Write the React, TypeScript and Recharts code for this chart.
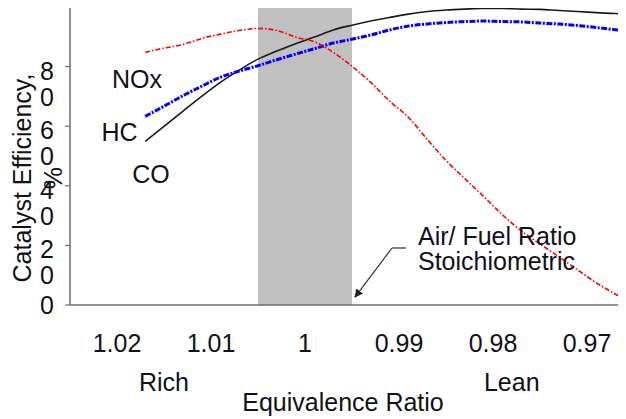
import React from "react";
import {
  LineChart,
  Line,
  XAxis,
  YAxis,
  ReferenceArea,
  ReferenceLine,
  ReferenceDot,
} from "recharts";

// ---- data ----
const ratio = [
  1.017, 1.015, 1.013, 1.011, 1.009, 1.007, 1.005, 1.003, 1.001, 0.999, 0.997,
  0.995, 0.993, 0.991, 0.989, 0.987, 0.985, 0.983, 0.981, 0.979, 0.977, 0.975,
  0.973, 0.971, 0.969, 0.967, 0.966,
];
const noxValues = [
  84.8, 86.2, 87.4, 89.4, 90.9, 92.1, 92.8, 92.1, 89.9, 88.3, 84.8, 80.1, 74.7,
  68.4, 63.0, 55.6, 48.5, 42.4, 36.4, 30.3, 24.9, 20.5, 16.2, 11.8, 7.4, 3.7, 1.7,
];
const hcValues = [
  63.3, 66.7, 70.2, 73.4, 76.4, 78.5, 80.3, 82.3, 84.2, 86.0, 87.9, 89.2, 90.6,
  92.3, 93.6, 94.3, 94.8, 95.1, 95.3, 95.1, 95.0, 94.6, 94.3, 93.8, 93.1, 92.4,
  92.1,
];
const coValues = [
  54.9, 59.9, 65.0, 70.0, 74.7, 78.8, 82.5, 85.2, 87.7, 89.9, 92.3, 93.9, 95.3,
  96.5, 97.6, 98.5, 99.0, 99.3, 99.5, 99.5, 99.3, 99.2, 98.8, 98.5, 98.1, 97.8,
  97.6,
];

// category boundaries (tick marks) and category centres (labels)
const xBoundaryTicks = [1.025, 1.015, 1.005, 0.995, 0.985, 0.975];
const xLabelTicks = [1.02, 1.01, 1.0, 0.99, 0.98, 0.97];
const xTickLabels = ["1.02", "1.01", "1", "0.99", "0.98", "0.97"];
const xDomain = [0.96585, 1.025];

const regionTicks = [1.015, 0.978];
const regionLabels = ["Rich", "Lean"];

const yTicks = [0, 20, 40, 60, 80];
const yTickLabels = ["0", "20", "40", "60", "80"];

// stoichiometric band
const bandFrom = 1.005;
const bandTo = 0.995;

// series name annotations
const seriesNames = ["NOx", "HC", "CO"];
const seriesNameX = [1.01787, 1.01973, 1.01638];
const seriesNameY = [75.7, 58.2, 43.8];

// arrow annotation (data units)
const arrowTail = { x: 0.989255, y: 19.13 };
const arrowElbow = { x: 0.990745, y: 19.13 };
const arrowTip = { x: 0.99468, y: 2.68 };
const noteAnchor = { x: 0.98798, y: 20.13 };
const noteLines = ["Air/ Fuel Ratio", "Stoichiometric"];

const data = ratio.map((r, i) => ({
  ratio: r,
  nox: noxValues[i],
  hc: hcValues[i],
  co: coValues[i],
}));

const FONT = "'Liberation Sans', Arial, Helvetica, sans-serif";
const FS = 25;
const TXT = "#111118";
const AXIS = "#6e6e6e";

const YTick = (props: any) => {
  const { x, y, payload } = props;
  const idx = yTicks.indexOf(payload.value);
  const s = idx >= 0 ? yTickLabels[idx] : String(payload.value);
  if (s.length === 1) {
    return (
      <text x={x} y={y} dy={9} textAnchor="end" fontSize={FS} fontFamily={FONT} fill={TXT}>
        {s}
      </text>
    );
  }
  return (
    <text x={x} y={y} textAnchor="end" fontSize={FS} fontFamily={FONT} fill={TXT}>
      <tspan x={x} dy={13}>{s.slice(0, 1)}</tspan>
      <tspan x={x} dy={26}>{s.slice(1)}</tspan>
    </text>
  );
};

const XValueTick = (props: any) => {
  const { x, y, payload } = props;
  const idx = xLabelTicks.indexOf(payload.value);
  return (
    <text x={x} y={y} dy={42} textAnchor="middle" fontSize={FS} fontFamily={FONT} fill={TXT}>
      {idx >= 0 ? xTickLabels[idx] : ""}
    </text>
  );
};

const RegionTick = (props: any) => {
  const { x, y, payload } = props;
  const idx = regionTicks.indexOf(payload.value);
  return (
    <text x={x} y={y} dy={39} textAnchor="middle" fontSize={FS} fontFamily={FONT} fill={TXT}>
      {idx >= 0 ? regionLabels[idx] : ""}
    </text>
  );
};

const YTitle = (props: any) => {
  const vb = props.viewBox || { x: 0, y: 0, width: 70, height: 298 };
  const cy = vb.y + vb.height / 2 + 22;
  const x1 = vb.x + 31;
  const x2 = vb.x + 62;
  return (
    <g>
      <text
        x={x1}
        y={cy}
        transform={`rotate(-90 ${x1} ${cy})`}
        textAnchor="middle"
        fontSize={FS}
        fontFamily={FONT}
        fill={TXT}
      >
        Catalyst Efficiency,
      </text>
      <text
        x={x2}
        y={cy}
        transform={`rotate(-90 ${x2} ${cy})`}
        textAnchor="middle"
        fontSize={FS}
        fontFamily={FONT}
        fill={TXT}
      >
        %
      </text>
    </g>
  );
};

export default function App() {
  return (
    <div style={{ margin: "-8px 0 0 -8px", width: 626, height: 419, background: "#fff" }}>
      <LineChart
        width={626}
        height={419}
        data={data}
        margin={{ top: 7, right: 0, left: 0, bottom: 0 }}
        style={{ fontFamily: FONT }}
      >
        <defs>
          <marker
            id="arrowHead"
            viewBox="0 0 10 10"
            refX="9"
            refY="5"
            markerWidth="7"
            markerHeight="7"
            orient="auto"
          >
            <path d="M0,0 L10,5 L0,10 z" fill="#222" />
          </marker>
        </defs>
        <XAxis
          xAxisId="a_main"
          dataKey="ratio"
          type="number"
          domain={xDomain}
          reversed
          allowDataOverflow
          ticks={xBoundaryTicks}
          interval={0}
          tick={false}
          tickSize={4}
          height={5}
          axisLine={{ stroke: AXIS, strokeWidth: 1.5 }}
          tickLine={{ stroke: AXIS, strokeWidth: 1.2 }}
        />
        <XAxis
          xAxisId="b_values"
          dataKey="ratio"
          type="number"
          domain={xDomain}
          reversed
          allowDataOverflow
          ticks={xLabelTicks}
          interval={0}
          tick={<XValueTick />}
          tickSize={0}
          tickMargin={0}
          height={42}
          axisLine={false}
          tickLine={false}
        />
        <XAxis
          xAxisId="c_regions"
          dataKey="ratio"
          type="number"
          domain={xDomain}
          reversed
          allowDataOverflow
          ticks={regionTicks}
          interval={0}
          tick={<RegionTick />}
          tickSize={0}
          tickMargin={0}
          height={67}
          axisLine={false}
          tickLine={false}
          label={{
            value: "Equivalence Ratio",
            position: "insideBottom",
            offset: 8,
            dx: -5,
            fontSize: FS,
            fontFamily: FONT,
            fill: TXT,
          }}
        />
        <YAxis
          type="number"
          domain={[0, 100]}
          ticks={yTicks}
          interval={0}
          width={70}
          tick={<YTick />}
          tickSize={5}
          tickMargin={11}
          axisLine={{ stroke: AXIS, strokeWidth: 1.5 }}
          tickLine={{ stroke: AXIS, strokeWidth: 1.2 }}
          label={{ content: <YTitle /> }}
        />
        <ReferenceArea
          xAxisId="a_main"
          x1={bandFrom}
          x2={bandTo}
          y1={0}
          y2={100}
          fill="#c0c0c0"
          fillOpacity={1}
          stroke="none"
        />
        <ReferenceLine xAxisId="a_main" y={100} stroke="#a8a8a8" strokeWidth={2} />
        <Line
          xAxisId="a_main"
          dataKey="co"
          type="monotone"
          stroke="#1a1a1a"
          strokeWidth={1.6}
          dot={false}
          isAnimationActive={false}
        />
        <Line
          xAxisId="a_main"
          dataKey="hc"
          type="monotone"
          stroke="#0000ff"
          strokeWidth={3}
          strokeDasharray="6 1.5 2 1.5"
          dot={false}
          isAnimationActive={false}
        />
        <Line
          xAxisId="a_main"
          dataKey="nox"
          type="monotone"
          stroke="#ff0000"
          strokeWidth={1.6}
          strokeDasharray="5 2 1.5 2"
          dot={false}
          isAnimationActive={false}
        />
        <ReferenceLine
          xAxisId="a_main"
          segment={[arrowTail, arrowElbow]}
          stroke="#333"
          strokeWidth={1.2}
        />
        <ReferenceLine
          xAxisId="a_main"
          segment={[arrowElbow, arrowTip]}
          stroke="#333"
          strokeWidth={1.2}
          markerEnd="url(#arrowHead)"
        />
        {seriesNames.map((name, i) => (
          <ReferenceDot
            key={name}
            xAxisId="a_main"
            x={seriesNameX[i]}
            y={seriesNameY[i]}
            r={0}
            shape={(p: any) => (
              <text
                x={p.cx}
                y={p.cy}
                dy={9}
                textAnchor="middle"
                fontSize={FS}
                fontFamily={FONT}
                fill={TXT}
              >
                {name}
              </text>
            )}
          />
        ))}
        <ReferenceDot
          xAxisId="a_main"
          x={noteAnchor.x}
          y={noteAnchor.y}
          r={0}
          shape={(p: any) => (
            <text x={p.cx} y={p.cy} textAnchor="start" fontSize={FS} fontFamily={FONT} fill={TXT}>
              <tspan x={p.cx}>{noteLines[0]}</tspan>
              <tspan x={p.cx} dy={25}>
                {noteLines[1]}
              </tspan>
            </text>
          )}
        />
      </LineChart>
    </div>
  );
}
